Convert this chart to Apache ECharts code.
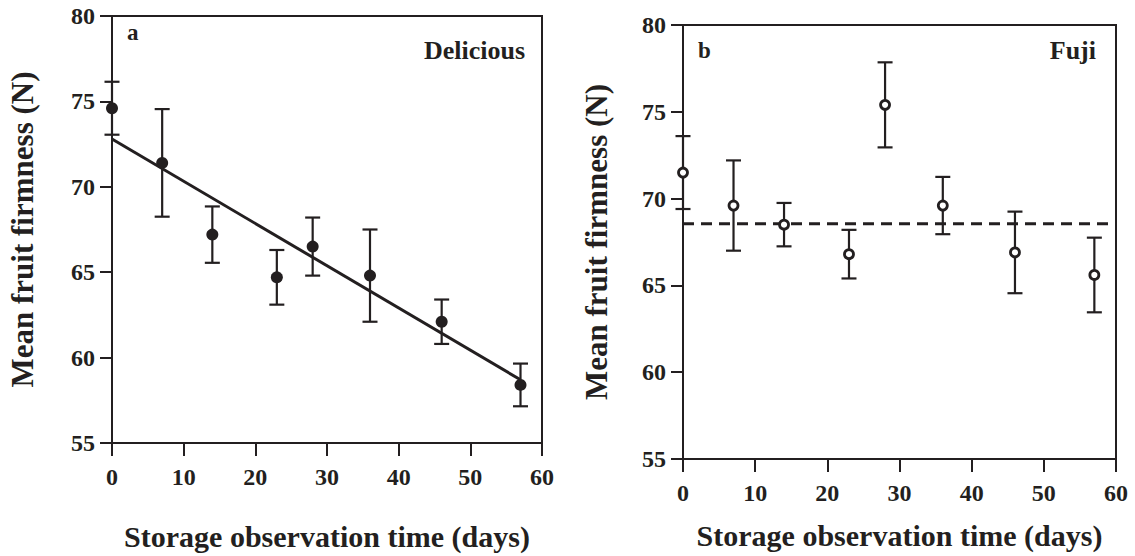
<!DOCTYPE html>
<html>
<head>
<meta charset="utf-8">
<script src="https://cdn.jsdelivr.net/npm/echarts@6/dist/echarts.min.js"></script>
<style>
  html, body { margin: 0; padding: 0; background: #fff; }
  #chart { width: 1135px; height: 556px; }
</style>
</head>
<body>
<div id="chart"></div>
<script>
// storage days (same for both cultivars)
const days = [0, 7, 14, 23, 28, 36, 46, 57];

// panel a - Delicious
const deliciousMean = [74.6, 71.4, 67.2, 64.7, 66.5, 64.8, 62.1, 58.4];
const deliciousErr = [1.55, 3.15, 1.65, 1.6, 1.7, 2.7, 1.3, 1.25];
const deliciousFitDays = [0, 57];
const deliciousFitValues = [72.8, 58.7];

// panel b - Fuji
const fujiMean = [71.5, 69.6, 68.5, 66.8, 75.4, 69.6, 66.9, 65.6];
const fujiErr = [2.1, 2.6, 1.25, 1.4, 2.45, 1.65, 2.35, 2.15];
const fujiAvgDays = [0, 60];
const fujiAvgValue = 68.55;

const xTicks = [0, 10, 20, 30, 40, 50, 60];
const yTicks = [55, 60, 65, 70, 75, 80];

const ink = '#231f20';
const serif = 'Liberation Serif';

const chart = echarts.init(document.getElementById('chart'), null, { renderer: 'svg' });

// tick labels go through rich text so weight and size stick
const tickLabel = margin => ({
  margin: margin,
  formatter: '{t|{value}}',
  rich: { t: { fontFamily: serif, fontWeight: 'bold', fontSize: 24, color: ink } }
});

const xAxisBase = (gridIndex, gap) => ({
  type: 'value',
  gridIndex: gridIndex,
  min: xTicks[0],
  max: xTicks[xTicks.length - 1],
  interval: xTicks[1] - xTicks[0],
  name: 'Storage observation time (days)',
  nameLocation: 'middle',
  nameGap: gap,
  nameTextStyle: { fontFamily: serif, fontWeight: 'bold', fontSize: 30, color: ink },
  axisLine: { show: true, lineStyle: { color: ink, width: 2 } },
  axisTick: { show: true, inside: false, length: 13, lineStyle: { color: ink, width: 2 } },
  axisLabel: tickLabel(22),
  splitLine: { show: false }
});

const yAxisBase = (gridIndex, gap) => ({
  type: 'value',
  gridIndex: gridIndex,
  min: yTicks[0],
  max: yTicks[yTicks.length - 1],
  interval: yTicks[1] - yTicks[0],
  name: 'Mean fruit firmness (N)',
  nameLocation: 'middle',
  nameGap: gap,
  nameTextStyle: { fontFamily: serif, fontWeight: 'bold', fontSize: 31, color: ink },
  axisLine: { show: true, lineStyle: { color: ink, width: 2 } },
  axisTick: { show: true, inside: false, length: 12, lineStyle: { color: ink, width: 2 } },
  axisLabel: tickLabel(17),
  splitLine: { show: false }
});

// error bar with caps, built from the axis scale
const errorBars = (params, api) => {
  const x = api.value(0);
  const m = api.value(1);
  const e = api.value(2);
  const hi = api.coord([x, m + e]);
  const lo = api.coord([x, m - e]);
  const half = 7.5;
  const style = { stroke: ink, lineWidth: 2.2 };
  return {
    type: 'group',
    children: [
      { type: 'line', shape: { x1: hi[0], y1: hi[1], x2: lo[0], y2: lo[1] }, style: style },
      { type: 'line', shape: { x1: hi[0] - half, y1: hi[1], x2: hi[0] + half, y2: hi[1] }, style: style },
      { type: 'line', shape: { x1: lo[0] - half, y1: lo[1], x2: lo[0] + half, y2: lo[1] }, style: style }
    ]
  };
};

const option = {
  backgroundColor: '#fff',
  animation: false,
  grid: [
    { left: 112, top: 16, width: 430, height: 428, show: true, borderColor: ink, borderWidth: 2 },
    { left: 683, top: 25, width: 433, height: 434, show: true, borderColor: ink, borderWidth: 2 }
  ],
  xAxis: [xAxisBase(0, 78), xAxisBase(1, 61)],
  yAxis: [yAxisBase(0, 74), yAxisBase(1, 71)],
  graphic: [
    { type: 'text', left: 127, top: 21, style: { text: 'a', font: 'bold 23px ' + serif, fill: ink } },
    { type: 'text', right: 1135 - 525, top: 37, style: { text: 'Delicious', font: 'bold 26px ' + serif, fill: ink } },
    { type: 'text', left: 698, top: 39, style: { text: 'b', font: 'bold 23px ' + serif, fill: ink } },
    { type: 'text', right: 1135 - 1096, top: 37, style: { text: 'Fuji', font: 'bold 26px ' + serif, fill: ink } }
  ],
  series: [
    {
      name: 'Delicious SE',
      type: 'custom',
      xAxisIndex: 0,
      yAxisIndex: 0,
      clip: false,
      renderItem: errorBars,
      encode: { x: 0, y: 1 },
      data: days.map((d, i) => [d, deliciousMean[i], deliciousErr[i]]),
      z: 2
    },
    {
      name: 'Delicious fit',
      type: 'line',
      xAxisIndex: 0,
      yAxisIndex: 0,
      showSymbol: false,
      symbol: 'none',
      lineStyle: { color: ink, width: 3 },
      data: deliciousFitDays.map((d, i) => [d, deliciousFitValues[i]]),
      z: 3
    },
    {
      name: 'Delicious',
      type: 'scatter',
      xAxisIndex: 0,
      yAxisIndex: 0,
      clip: false,
      symbol: 'circle',
      symbolSize: 12,
      itemStyle: { color: ink, opacity: 1 },
      data: days.map((d, i) => [d, deliciousMean[i]]),
      z: 4
    },
    {
      name: 'Fuji SE',
      type: 'custom',
      xAxisIndex: 1,
      yAxisIndex: 1,
      clip: false,
      renderItem: errorBars,
      encode: { x: 0, y: 1 },
      data: days.map((d, i) => [d, fujiMean[i], fujiErr[i]]),
      z: 2
    },
    {
      name: 'Fuji mean',
      type: 'line',
      xAxisIndex: 1,
      yAxisIndex: 1,
      showSymbol: false,
      symbol: 'none',
      lineStyle: { color: ink, width: 3, type: [11, 7] },
      data: fujiAvgDays.map(d => [d, fujiAvgValue]),
      z: 3
    },
    {
      name: 'Fuji',
      type: 'scatter',
      xAxisIndex: 1,
      yAxisIndex: 1,
      clip: false,
      symbol: 'circle',
      symbolSize: 9,
      itemStyle: { color: '#fff', borderColor: ink, borderWidth: 2.8, opacity: 1 },
      data: days.map((d, i) => [d, fujiMean[i]]),
      z: 4
    }
  ]
};

chart.setOption(option);
</script>
</body>
</html>
